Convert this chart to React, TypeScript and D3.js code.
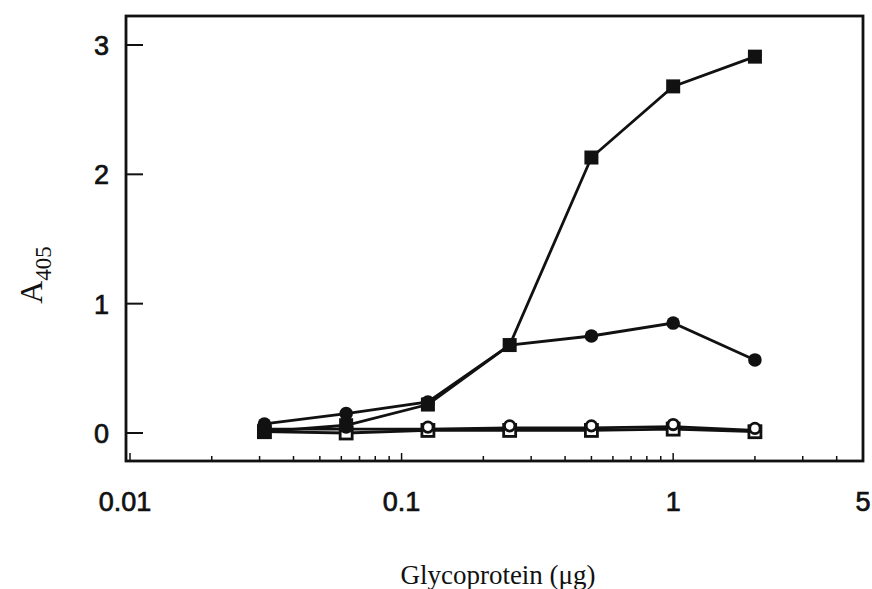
import React from 'react'
import {scaleLog, scaleLinear, line} from 'd3'

// glycoprotein amounts (ug), two-fold dilutions
const doses = [0.03125, 0.0625, 0.125, 0.25, 0.5, 1, 2]

// A405 readings
const filledSquares = [0.01, 0.06, 0.22, 0.68, 2.13, 2.68, 2.91]
const filledCircles = [0.07, 0.15, 0.24, 0.68, 0.75, 0.85, 0.565]
const openCircles = [0.03, 0.03, 0.03, 0.04, 0.04, 0.05, 0.02]
const openSquares = [0.01, 0.0, 0.02, 0.02, 0.02, 0.03, 0.01]

const yTicks = [0, 1, 2, 3]
const xMajor = [0.01, 0.1, 1, 5]
const xMinor = [0.02, 0.03, 0.04, 0.05, 0.06, 0.07, 0.08, 0.09, 0.2, 0.3, 0.4, 0.5, 0.6, 0.7, 0.8, 0.9, 2, 3, 4]

const W = 872, H = 589
const frame = {left: 126, right: 863, top: 16, bottom: 461}

export default function App() {
    const x = scaleLog().domain([0.01, 5]).range([130, 863])
    const y = scaleLinear().domain([0, 3]).range([433, 45])

    const pts = (vals: number[]) => vals.map((v, i) => [doses[i], v] as [number, number])
    const path = line<[number, number]>().x(d => x(d[0])).y(d => y(d[1]))

    const sans = "'Liberation Sans', Arial, Helvetica, sans-serif"
    const serif = "'Liberation Serif', 'Times New Roman', serif"
    const ink = '#111'

    return (
        <svg width={W} height={H} style={{position: 'absolute', left: 0, top: 0, background: '#fff'}}>
            <rect x={frame.left} y={frame.top} width={frame.right - frame.left} height={frame.bottom - frame.top}
                fill="none" stroke={ink} strokeWidth={2.8} />

            {/* y ticks */}
            {yTicks.map(t => (
                <g key={'y' + t}>
                    <line x1={frame.left} x2={frame.left + 17} y1={y(t)} y2={y(t)} stroke={ink} strokeWidth={2} />
                    <text x={109} y={y(t) + 10} textAnchor="end" fontFamily={sans} fontSize={27}
                        fill={ink} stroke={ink} strokeWidth={0.7}>{t}</text>
                </g>
            ))}

            {/* x ticks */}
            {xMinor.map(t => (
                <line key={'m' + t} x1={x(t)} x2={x(t)} y1={frame.bottom} y2={frame.bottom - 5} stroke={ink} strokeWidth={1.5} />
            ))}
            {xMajor.map(t => (
                <g key={'x' + t}>
                    <line x1={x(t)} x2={x(t)} y1={frame.bottom} y2={frame.bottom - 8} stroke={ink} strokeWidth={1.5} />
                    <text x={x(t) - (t === 0.01 ? 5 : 0)} y={511} textAnchor="middle" fontFamily={sans} fontSize={27}
                        fill={ink} stroke={ink} strokeWidth={0.7}>{t}</text>
                </g>
            ))}

            {/* series lines */}
            {[openSquares, openCircles, filledCircles, filledSquares].map((s, i) => (
                <path key={'l' + i} d={path(pts(s)) || ''} fill="none" stroke={ink} strokeWidth={2.8} />
            ))}

            {openSquares.map((v, i) => (
                <rect key={'os' + i} x={x(doses[i]) - 6} y={y(v) - 6} width={12} height={12}
                    fill="#fff" stroke={ink} strokeWidth={2.8} />
            ))}
            {openCircles.map((v, i) => (
                <circle key={'oc' + i} cx={x(doses[i])} cy={y(v) - 2} r={5.2} fill="#fff" stroke={ink} strokeWidth={2.8} />
            ))}
            {filledCircles.map((v, i) => (
                <circle key={'fc' + i} cx={x(doses[i])} cy={y(v)} r={6.8} fill={ink} />
            ))}
            {filledSquares.map((v, i) => (
                <rect key={'fs' + i} x={x(doses[i]) - 7} y={y(v) - 7} width={14} height={14} fill={ink} />
            ))}

            {/* axis titles */}
            <text transform="translate(42,275) rotate(-90)" textAnchor="middle" fontFamily={serif} fontSize={32} fill={ink}>
                A<tspan fontSize={23} dy={9}>405</tspan>
            </text>
            <text x={498} y={584} textAnchor="middle" fontFamily={serif} fontSize={27} fill={ink}>Glycoprotein (μg)</text>
        </svg>
    )
}
